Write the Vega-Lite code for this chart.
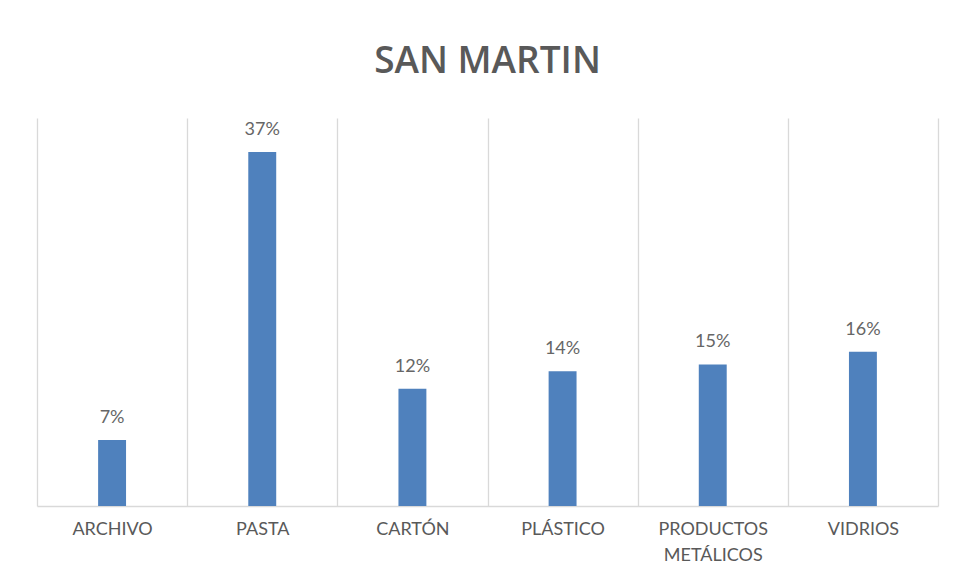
{
  "$schema": "https://vega.github.io/schema/vega-lite/v6.json",
  "width": 901,
  "height": 388,
  "autosize": "none",
  "padding": {"left": 37, "top": 118, "right": 18, "bottom": 78},
  "background": "white",
  "title": {
    "text": "SAN MARTIN",
    "font": "Open Sans",
    "fontSize": 37,
    "fontWeight": 600,
    "color": "#595959",
    "anchor": "middle",
    "baseline": "alphabetic",
    "offset": 8
  },
  "data": {
    "values": [
      {"material": "ARCHIVO", "share": 0.068},
      {"material": "PASTA", "share": 0.365},
      {"material": "CARTÓN", "share": 0.121},
      {"material": "PLÁSTICO", "share": 0.139},
      {"material": "PRODUCTOS METÁLICOS", "share": 0.146},
      {"material": "VIDRIOS", "share": 0.159}
    ]
  },
  "encoding": {
    "x": {
      "field": "material",
      "type": "nominal",
      "sort": null,
      "scale": {"paddingInner": 0, "paddingOuter": 0},
      "axis": {
        "title": null,
        "labelAngle": 0,
        "labelFont": "Lato",
        "labelFontSize": 18,
        "labelColor": "#595959",
        "labelPadding": 14,
        "labelLineHeight": 26,
        "labelExpr": "split(datum.label, ' ')",
        "ticks": false,
        "grid": true,
        "tickBand": "extent",
        "gridColor": "#D9D9D9",
        "gridWidth": 1.3,
        "domainColor": "#D9D9D9",
        "domainWidth": 1.3
      }
    },
    "y": {
      "field": "share",
      "type": "quantitative",
      "scale": {"domain": [0, 0.4], "nice": false},
      "axis": null
    }
  },
  "layer": [
    {
      "mark": {"type": "bar", "color": "#4F81BD", "width": {"band": 0.186}}
    },
    {
      "mark": {
        "type": "text",
        "font": "Lato",
        "fontSize": 18,
        "color": "#666666",
        "baseline": "alphabetic",
        "dy": -17
      },
      "encoding": {
        "text": {"field": "share", "type": "quantitative", "format": ".0%"}
      }
    }
  ],
  "config": {
    "view": {"stroke": null}
  }
}
